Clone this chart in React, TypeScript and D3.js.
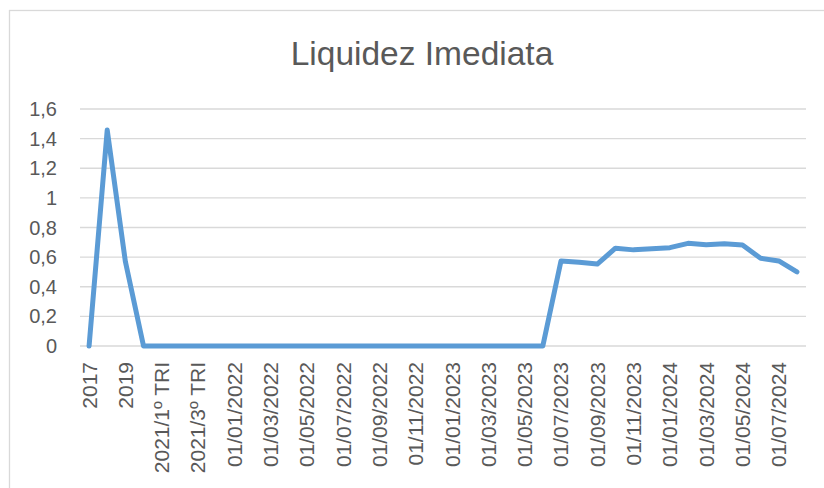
import React from "react";
import { scaleLinear, scalePoint, line, range } from "d3";

const categories = [
  "2017", "2018", "2019", "2020",
  "2021/1º TRI", "2021/2º TRI", "2021/3º TRI", "2021/4º TRI",
  "01/01/2022", "01/02/2022", "01/03/2022", "01/04/2022", "01/05/2022", "01/06/2022",
  "01/07/2022", "01/08/2022", "01/09/2022", "01/10/2022", "01/11/2022", "01/12/2022",
  "01/01/2023", "01/02/2023", "01/03/2023", "01/04/2023", "01/05/2023", "01/06/2023",
  "01/07/2023", "01/08/2023", "01/09/2023", "01/10/2023", "01/11/2023", "01/12/2023",
  "01/01/2024", "01/02/2024", "01/03/2024", "01/04/2024", "01/05/2024", "01/06/2024",
  "01/07/2024", "01/08/2024",
];

const values = [
  0, 1.458, 0.57, 0,
  0, 0, 0, 0,
  0, 0, 0, 0, 0, 0,
  0, 0, 0, 0, 0, 0,
  0, 0, 0, 0, 0, 0,
  0.574, 0.565, 0.553, 0.66, 0.649, 0.656,
  0.664, 0.693, 0.684, 0.691, 0.682, 0.592,
  0.574, 0.5,
];

const yTicks = [0, 0.2, 0.4, 0.6, 0.8, 1, 1.2, 1.4, 1.6];

const W = 824;
const H = 488;
const font = "'Liberation Sans', Arial, sans-serif";
const textColor = "#595959";
const gridColor = "#D9D9D9";

const App = () => {
  const x = scalePoint<string>().domain(categories).range([80, 806]).padding(0.5);
  const y = scaleLinear().domain([0, 1.6]).range([346, 109]);

  const path = line<number>()
    .x((_, i) => x(categories[i]) as number)
    .y((d) => y(d))(values);

  const fmt = (v: number) => String(Math.round(v * 10) / 10).replace(".", ",");

  return (
    <svg
      width={W}
      height={H}
      viewBox={`0 0 ${W} ${H}`}
      style={{ position: "absolute", left: 0, top: 0, background: "#fff" }}
    >
      {/* chart frame */}
      <rect x={9.5} y={10.5} width={W + 10} height={H + 10} fill="#fff" stroke={gridColor} strokeWidth={1.3} />

      <text
        x={422}
        y={65}
        textAnchor="middle"
        fontFamily={font}
        fontSize={33.5}
        fill={textColor}
      >
        Liquidez Imediata
      </text>

      {/* gridlines + y labels */}
      {yTicks.map((t) => (
        <g key={t}>
          <line x1={80} x2={806} y1={y(t)} y2={y(t)} stroke={gridColor} strokeWidth={1.3} />
          <text
            x={57}
            y={y(t)}
            dy="0.35em"
            textAnchor="end"
            fontFamily={font}
            fontSize={20}
            fill={textColor}
          >
            {fmt(t)}
          </text>
        </g>
      ))}

      {/* x labels, every other category */}
      {range(0, categories.length, 2).map((i) => (
        <text
          key={categories[i]}
          transform={`translate(${(x(categories[i]) as number) + 7.5},362) rotate(-90)`}
          textAnchor="end"
          fontFamily={font}
          fontSize={21}
          fill={textColor}
        >
          {categories[i]}
        </text>
      ))}

      <path
        d={path ?? ""}
        fill="none"
        stroke="#5B9BD5"
        strokeWidth={5}
        strokeLinejoin="round"
        strokeLinecap="round"
      />
    </svg>
  );
};

export default App;
